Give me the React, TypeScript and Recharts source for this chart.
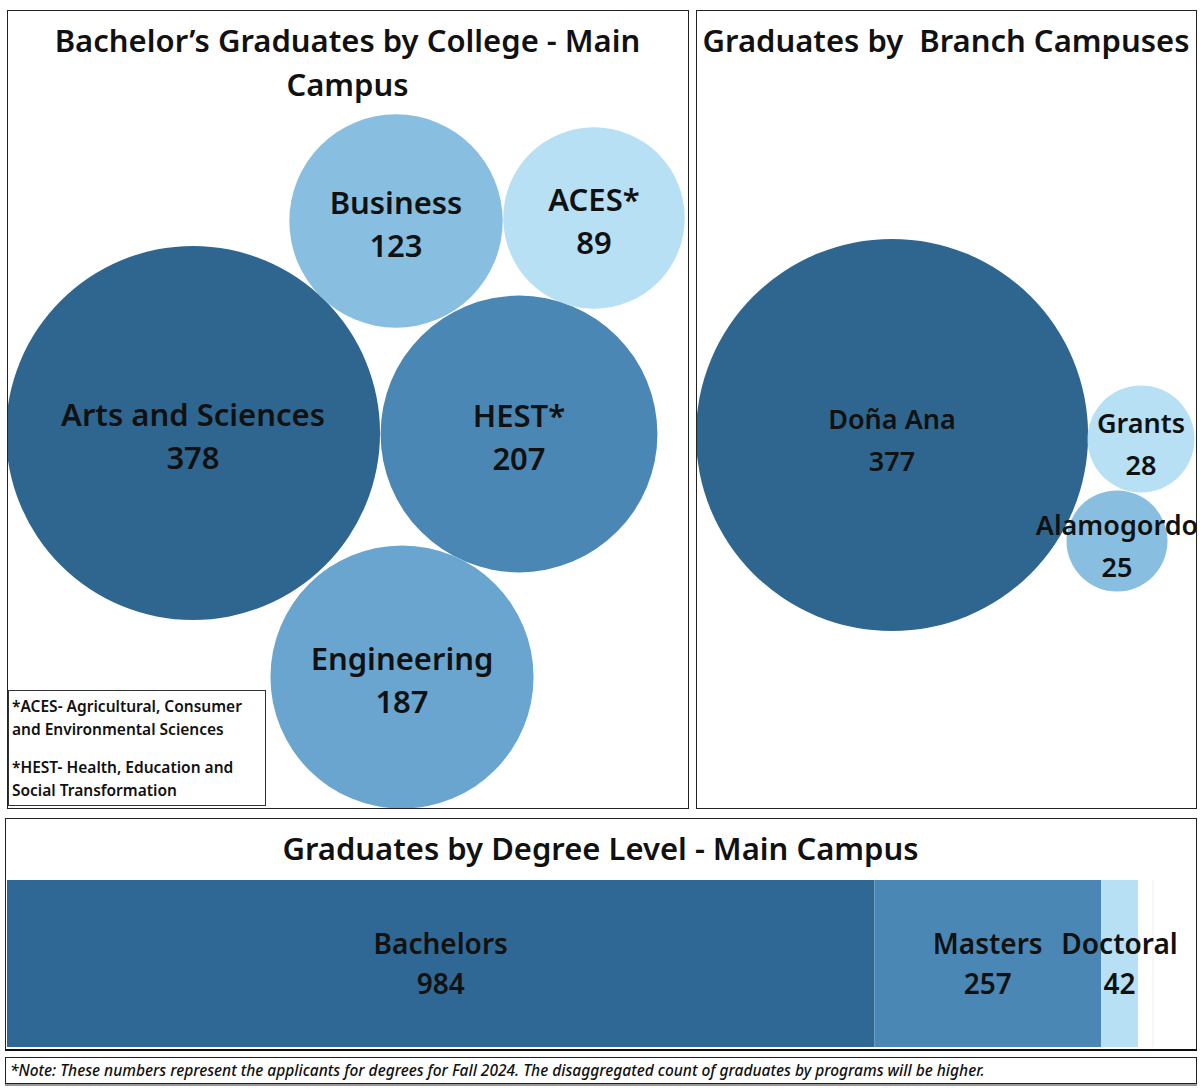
import React from 'react';
import { ScatterChart, Scatter, XAxis, YAxis, ZAxis, BarChart, Bar, LabelList, ReferenceLine } from 'recharts';

const collegeNames = ['Arts and Sciences', 'HEST*', 'Business', 'ACES*', 'Engineering'];
const collegeCounts = [378, 207, 123, 89, 187];

const branchNames = ['Doña Ana', 'Grants', 'Alamogordo'];
const branchCounts = [377, 28, 25];

const degreeLevels = ['Bachelors', 'Masters', 'Doctoral'];
const degreeCounts = [984, 257, 42];

// packed bubble centres, in chart units (kept apart from the values)
const collegeCenters = [[186, 423], [512, 424], [389, 211], [587, 208], [395, 667]];
const branchCenters = [[196, 425], [445, 429], [421, 531]];

const collegeColors = ['#2e6690', '#4a87b4', '#88bfe0', '#b7e0f4', '#69a5cf'];
const branchColors = ['#2e6690', '#b7e0f4', '#88bfe0'];
const degreeColors = ['#2f6894', '#4a87b4', '#b7e0f4'];

const FONT = '"Noto Sans", "Open Sans", sans-serif';

const collegeData = collegeNames.map((name, i) => ({
  name, value: collegeCounts[i], x: collegeCenters[i][0], y: collegeCenters[i][1], color: collegeColors[i],
}));
const branchData = branchNames.map((name, i) => ({
  name, value: branchCounts[i], x: branchCenters[i][0], y: branchCenters[i][1], color: branchColors[i],
}));
const degreeRow = [
  degreeLevels.reduce((row: any, d, i) => ({ ...row, [d]: degreeCounts[i] }), { name: 'Main Campus' }),
];

const makeBubble = (fontSize: number, up: number, down: number) => (props: any) => {
  const { cx, cy, size, payload } = props;
  const r = Math.sqrt(size / Math.PI);
  return (
    <g>
      <circle cx={cx} cy={cy} r={r} fill={payload.color} />
      <text x={cx} y={cy - up} textAnchor="middle" dominantBaseline="central"
        fontFamily={FONT} fontWeight={600} fontSize={fontSize} fill="#111">{payload.name}</text>
      <text x={cx} y={cy + down} textAnchor="middle" dominantBaseline="central"
        fontFamily={FONT} fontWeight={600} fontSize={fontSize} fill="#111">{payload.value}</text>
    </g>
  );
};

const renderBarLabel = (name: string) => (p: any) => {
  const { x, y, width, height, value } = p;
  const cx = x + width / 2;
  const cy = y + height / 2;
  return (
    <g>
      <text x={cx} y={cy - 21} textAnchor="middle" dominantBaseline="central"
        fontFamily={FONT} fontWeight={600} fontSize={28} fill="#111">{name}</text>
      <text x={cx} y={cy + 19} textAnchor="middle" dominantBaseline="central"
        fontFamily={FONT} fontWeight={600} fontSize={28} fill="#111">{value}</text>
    </g>
  );
};

const abs = (left: number, top: number, width: number, height: number): React.CSSProperties => ({
  position: 'absolute', left, top, width, height, boxSizing: 'border-box',
});

const titleStyle: React.CSSProperties = {
  fontFamily: FONT, fontWeight: 600, fontSize: 31, color: '#111', textAlign: 'center', lineHeight: '44px',
};

export default function App() {
  return (
    <div style={{ position: 'absolute', left: 0, top: 0, width: 1200, height: 1092, background: '#fff', overflow: 'hidden' }}>
      {/* Bachelor's by college */}
      <div style={abs(7, 10, 681, 798)}>
        <ScatterChart width={681} height={798} margin={{ top: 0, right: 0, bottom: 0, left: 0 }}>
          <XAxis type="number" dataKey="x" domain={[0, 681]} hide />
          <YAxis type="number" dataKey="y" domain={[0, 798]} reversed hide />
          <ZAxis type="number" dataKey="value" domain={[0, 400]} range={[0, Math.PI * 9.62 * 9.62 * 400]} />
          <Scatter data={collegeData} shape={makeBubble(31, 19, 24)} isAnimationActive={false} />
        </ScatterChart>
      </div>
      <div style={{ ...abs(7, 18, 681, 90), ...titleStyle }}>
        Bachelor’s Graduates by College - Main<br />Campus
      </div>
      <div style={{ ...abs(8, 690, 258, 116), border: '1px solid #333', background: '#fff', fontFamily: FONT, fontWeight: 600, fontSize: 15.5, lineHeight: '23px', color: '#111', padding: '4px 3px' }}>
        <div>*ACES- Agricultural, Consumer and Environmental Sciences</div>
        <div style={{ marginTop: 15 }}>*HEST- Health, Education and Social Transformation</div>
      </div>
      <div style={{ ...abs(7, 10, 682, 799), border: '1px solid #222' }} />

      {/* Branch campuses */}
      <div style={abs(696, 10, 500, 798)}>
        <ScatterChart width={500} height={798} margin={{ top: 0, right: 0, bottom: 0, left: 0 }}>
          <XAxis type="number" dataKey="x" domain={[0, 500]} hide />
          <YAxis type="number" dataKey="y" domain={[0, 798]} reversed hide />
          <ZAxis type="number" dataKey="value" domain={[0, 400]} range={[0, Math.PI * 10.1 * 10.1 * 400]} />
          <Scatter data={branchData} shape={makeBubble(27, 17, 25)} isAnimationActive={false} />
        </ScatterChart>
      </div>
      <div style={{ ...abs(696, 18, 500, 46), ...titleStyle, whiteSpace: 'pre' }}>
        Graduates by  Branch Campuses
      </div>
      <div style={{ ...abs(696, 10, 501, 799), border: '1px solid #222' }} />

      {/* Degree level */}
      <div style={{ ...abs(5, 826, 1191, 46), ...titleStyle }}>
        Graduates by Degree Level - Main Campus
      </div>
      <div style={abs(7, 880, 1189, 167)}>
        <BarChart layout="vertical" width={1189} height={167} data={degreeRow}
          margin={{ top: 0, right: 43, bottom: 0, left: 0 }} barCategoryGap={0}>
          <XAxis type="number" domain={[0, 1300]} hide />
          <YAxis type="category" dataKey="name" hide />
          <ReferenceLine x={1300} stroke="#eeeeee" />
          {degreeLevels.map((d, i) => (
            <Bar key={d} dataKey={d} stackId="deg" fill={degreeColors[i]} isAnimationActive={false}>
              <LabelList dataKey={d} content={renderBarLabel(d)} />
            </Bar>
          ))}
        </BarChart>
      </div>
      <div style={{ ...abs(5, 818, 1192, 233), border: '1px solid #222', borderBottom: '2px solid #111' }} />

      {/* footnote */}
      <div style={{ ...abs(5, 1057, 1192, 27), border: '1px solid #222', boxShadow: '0 2px 0 #999',
        fontFamily: FONT, fontStyle: 'italic', fontWeight: 500, fontSize: 15.5, lineHeight: '24px', paddingLeft: 4, color: '#111', whiteSpace: 'nowrap' }}>
        *Note: These numbers represent the applicants for degrees for Fall 2024. The disaggregated count of graduates by programs will be higher.
      </div>
    </div>
  );
}
